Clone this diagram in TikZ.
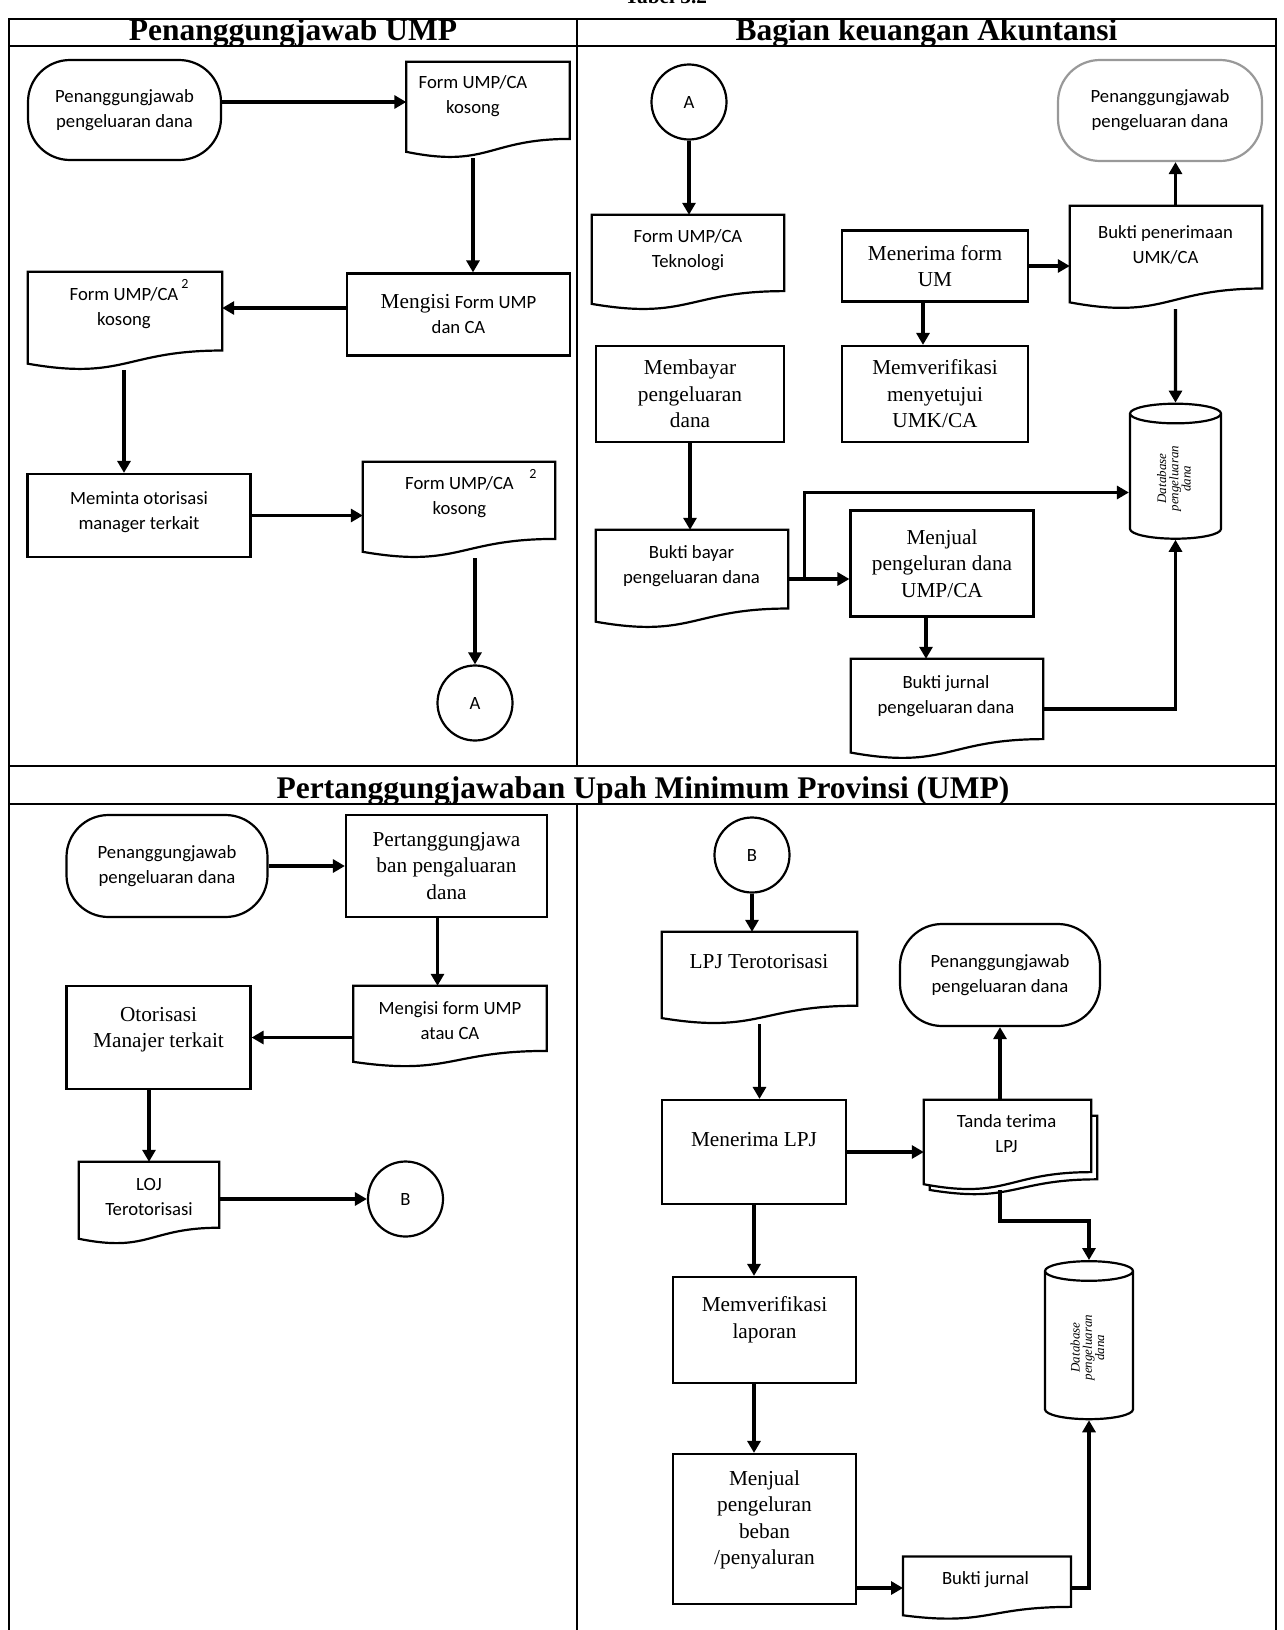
\documentclass[tikz,border=0pt]{standalone}
\usepackage{fontspec}
\setmainfont{Liberation Serif}
\newfontfamily\calibri{Carlito}
\usepackage{graphicx}
\usetikzlibrary{arrows.meta,shapes.geometric,calc}

% extra depth under the last line, pushes the text up in its box
\newcommand{\lift}[1]{\rule[-#1]{0pt}{#1}}

\begin{document}
\begin{tikzpicture}[
    x=1pt, y=-1pt,
    sans/.style={font=\calibri\fontsize{18.7}{25}\selectfont, align=center},
    serif/.style={font=\fontsize{21.3}{26.5}\selectfont, align=center},
    head/.style={font=\bfseries\fontsize{31.5}{32}\selectfont, anchor=base},
    proc/.style={draw, line width=2.2pt, fill=white, serif},
    term/.style={draw, line width=2.2pt, fill=white, rounded corners=42pt, sans},
    doc/.style={rectangle, inner sep=0pt},
    docline/.style={draw, line width=2.2pt, fill=white},
    conn/.style={circle, draw, line width=2.2pt, fill=white,
                 minimum size=75pt, sans},
    db/.style={cylinder, shape border rotate=90, aspect=0.45, draw,
               line width=2.2pt, fill=white,
               font=\itshape\fontsize{13}{11}\selectfont},
    sup/.style={font=\calibri\fontsize{14}{14}\selectfont},
    arr/.style={line width=3.3pt, -{Triangle[length=12pt, width=13pt]}},
    tabline/.style={line width=2.2pt},
]
\useasboundingbox[fill=white] (0,0) rectangle (1283,1630);

% Table frame
\node[font=\bfseries\fontsize{21.3}{21.3}\selectfont, anchor=base] (tabel) at (666,4) {Tabel 3.2};
\draw[tabline] (9,1630) |- (1276,19) -- (1276,1630);
\draw[tabline] (9,46) -- (1276,46);
\draw[tabline] (9,766) -- (1276,766);
\draw[tabline] (9,804) -- (1276,804);
\draw[tabline] (577,19) -- (577,766);
\draw[tabline] (577,804) -- (577,1630);
\node[head] (hleft) at (293,40) {Penanggungjawab UMP};
\node[head] (hright) at (926.5,40) {Bagian keuangan Akuntansi};
\node[head] (hmid) at (643,798.5) {Pertanggungjawaban Upah Minimum Provinsi (UMP)};

% Penanggungjawab UMP
\node[term, minimum width=193pt, minimum height=100pt] (tlpj) at (124.5,110)
    {Penanggungjawab\\pengeluaran dana};
\node[doc, minimum width=163pt, minimum height=96pt] (tlformk) at (488,110) {};
\node[proc, sans, minimum width=223pt, minimum height=82pt] (tlisi) at (458.5,314.5)
    {{\rmfamily\fontsize{21.3}{25}\selectfont Mengisi} Form UMP\\dan CA};
\node[doc, minimum width=194pt, minimum height=98pt] (tlformk2) at (125,321) {};
\node[proc, sans, minimum width=223pt, minimum height=83pt] (tlminta) at (139,515.5)
    {Meminta otorisasi\\manager terkait\lift{10pt}};
\node[doc, minimum width=192pt, minimum height=96pt] (tlformk3) at (459,510) {};
\node[conn] (tlA) at (475,703) {A};

% Bagian keuangan Akuntansi
\node[conn] (trA) at (689,102) {A};
\node[doc, minimum width=192pt, minimum height=95pt] (trformtek) at (688,262.5) {};
\node[proc, minimum width=188pt, minimum height=96pt] (trbayar) at (690,394)
    {Membayar\\pengeluaran\\dana};
\node[doc, minimum width=192pt, minimum height=98pt] (trbuktibayar) at (692,579) {};
\node[proc, minimum width=183pt, minimum height=106pt] (trjual) at (942,563.5)
    {Menjual\\pengeluran dana\\UMP/CA};
\node[doc, minimum width=192pt, minimum height=100pt] (trjurnal) at (947,709) {};
\node[proc, minimum width=186pt, minimum height=71pt] (trmenerima) at (935,266)
    {Menerima form\\UM};
\node[proc, minimum width=186pt, minimum height=96pt] (trverif) at (935,394)
    {Memverifikasi\\menyetujui\\UMK/CA};
\node[doc, minimum width=192pt, minimum height=103pt] (trbukti) at (1166,257.5) {};
\node[term, draw=black!40, minimum width=204pt, minimum height=101pt] (trpj) at (1160,110.5)
    {Penanggungjawab\\pengeluaran dana};
\node[db, minimum width=91pt, minimum height=135pt] (trdb) at (1175.5,478.5)
    {\rotatebox{90}{\begin{tabular}{@{}c@{}}Database\\pengeluaran\\dana\end{tabular}}};

% Pertanggungjawaban, left
\node[term, minimum width=201pt, minimum height=102pt] (blpj) at (167,866)
    {Penanggungjawab\\pengeluaran dana};
\node[proc, minimum width=201pt, minimum height=102pt] (blpjawab) at (446.5,866)
    {Pertanggungjawa\\ban pengaluaran\\dana};
\node[doc, minimum width=193pt, minimum height=81pt] (blisi) at (450,1026.5) {};
\node[proc, minimum width=184pt, minimum height=103pt] (blotor) at (158.5,1037.5)
    {Otorisasi\\Manajer terkait\lift{20pt}};
\node[doc, minimum width=140pt, minimum height=82pt] (blloj) at (149,1203) {};
\node[conn] (blB) at (405.5,1199) {B};

% Pertanggungjawaban, right
\node[conn] (brB) at (752,855) {B};
\node[doc, minimum width=195pt, minimum height=92pt] (brlpj) at (759.5,978) {};
\node[proc, minimum width=184pt, minimum height=104pt] (brterima) at (754,1152)
    {Menerima LPJ\lift{25pt}};
\node[doc, minimum width=167pt, minimum height=79pt] (brtandaback) at (1013.5,1155.5) {};
\node[doc, minimum width=167pt, minimum height=90pt] (brtanda) at (1007.5,1145) {};
\node[term, minimum width=200pt, minimum height=102pt] (brpj) at (1000,975)
    {Penanggungjawab\\pengeluaran dana};
\node[db, minimum width=88pt, minimum height=158pt] (brdb) at (1089,1347.5)
    {\rotatebox{90}{\begin{tabular}{@{}c@{}}Database\\pengeluaran\\dana\end{tabular}}};
\node[proc, minimum width=183pt, minimum height=106pt] (brverif) at (764.5,1330)
    {Memverifikasi\\laporan\lift{25pt}};
\node[proc, minimum width=183pt, minimum height=150pt] (brjual) at (764.5,1529)
    {Menjual\\pengeluran\\beban\\/penyaluran\lift{23pt}};
\node[doc, minimum width=167.5pt, minimum height=62.5pt] (brjurnal) at (987,1588) {};

% Document outlines (wavy bottom)
\foreach \d in {tlformk,tlformk2,tlformk3,trformtek,trbuktibayar,trjurnal,trbukti,
                blisi,blloj,brlpj,brtandaback,brtanda,brjurnal}
    \path[docline] (\d.north west) -- (\d.north east)
        -- ($(\d.north east)!0.8!(\d.south east)$)
        .. controls ($(\d.north)!0.8!(\d.south)$) and ($(\d.north)!1.107!(\d.south)$)
        .. ($(\d.north west)!0.934!(\d.south west)$) -- cycle;

% Document texts
\node[sans] (tlformkt) at (473,96) {Form UMP/CA\\kosong};
\node[sans] (tlformk2t) at (124,308) {Form UMP/CA\\kosong};
\node[sup] (tlsup2) at (185,284) {2};
\node[sans] (tlformk3t) at (459.5,497) {Form UMP/CA\\kosong};
\node[sup] (tlsup3) at (533,474) {2};
\node[sans] (trformtekt) at (688,250.5) {Form UMP/CA\\Teknologi};
\node[sans] (trbuktibayart) at (691.5,566.5) {Bukti bayar\\pengeluaran dana};
\node[sans] (trjurnalt) at (946,696.5) {Bukti jurnal\\pengeluaran dana};
\node[sans] (trbuktit) at (1165.5,245) {Bukti penerimaan\\UMK/CA};
\node[sans] (blisit) at (450,1021) {Mengisi form UMP\\atau CA};
\node[sans] (bllojt) at (149,1197) {LOJ\\Terotorisasi};
\node[serif] (brlpjt) at (759,962) {LPJ Terotorisasi};
\node[sans] (brtandat) at (1006.5,1133.5) {Tanda terima\\LPJ};
\node[sans] (brjurnalt) at (985.5,1580) {Bukti jurnal};

% Flow, Penanggungjawab UMP
\draw[arr] ([yshift=8pt]tlpj.east) -- ([yshift=8pt]tlformk.west);
\draw[arr] (tlformkt |- tlformk.south) -- (tlformkt |- tlisi.north);
\draw[arr] (tlisi.west |- tlformk2t) -- (tlformk2.east |- tlformk2t);
\draw[arr] (tlformk2t |- tlformk2.south) -- (tlformk2t |- tlminta.north);
\draw[arr] (tlminta.east) -- (tlminta.east -| tlformk3.west);
\draw[arr] (tlA |- tlformk3.south) -- (tlA.north);

% Flow, Bagian keuangan
\draw[arr] (trA.south) -- (trA.south |- trformtek.north);
\draw[arr] (trbayar.south) -- (trbayar.south |- trbuktibayar.north);
\draw[arr] (trbuktibayar.east) -- (trbuktibayar.east -| trjual.west);
\coordinate (trsplit) at ([xshift=16pt]trbuktibayar.east);
\draw[arr] (trsplit) |- ([yshift=-14pt]trdb.west);
\coordinate (trjd) at ([xshift=-16pt]trjual.south);
\draw[arr] (trjd) -- (trjd |- trjurnal.north);
\draw[arr] (trjurnal.east) -| (trdb.south);
\draw[arr] (trmenerima.east) -- (trmenerima.east -| trbukti.west);
\coordinate (trmd) at ([xshift=-12pt]trmenerima.south);
\draw[arr] (trmd) -- (trmd |- trverif.north);
\draw[arr] (trdb |- trbukti.north) -- (trdb |- trpj.south);
\draw[arr] (trdb |- trbukti.south) -- (trdb.north);

% Flow, Pertanggungjawaban left
\draw[arr] (blpj.east) -- (blpj.east -| blpjawab.west);
\coordinate (blpd) at ([xshift=-9pt]blpjawab.south);
\draw[arr] (blpd) -- (blpd |- blisi.north);
\draw[arr] (blotor.east -| blisi.west) -- (blotor.east);
\draw[arr] (blloj |- blotor.south) -- (blloj.north);
\draw[arr] (blloj.east |- blB) -- (blB.west);

% Flow, Pertanggungjawaban right
\draw[arr] (brB.south) -- (brB.south |- brlpj.north);
\draw[arr] (brlpj.south) -- (brlpj.south |- brterima.north);
\draw[arr] (brterima.east) -- (brterima.east -| brtanda.west);
\draw[arr] (brpj |- brtanda.north) -- (brpj.south);
\draw[arr] (brpj |- brtanda.south) |- ([yshift=39pt]brdb.north) -- (brdb.north);
\draw[arr] (brterima.south) -- (brterima.south |- brverif.north);
\draw[arr] (brterima.south |- brverif.south) -- (brterima.south |- brjual.north);
\draw[arr] (brjual.east |- brjurnal.west) -- (brjurnal.west);
\draw[arr] (brjurnal.east) -| (brdb.south);

\end{tikzpicture}
\end{document}
